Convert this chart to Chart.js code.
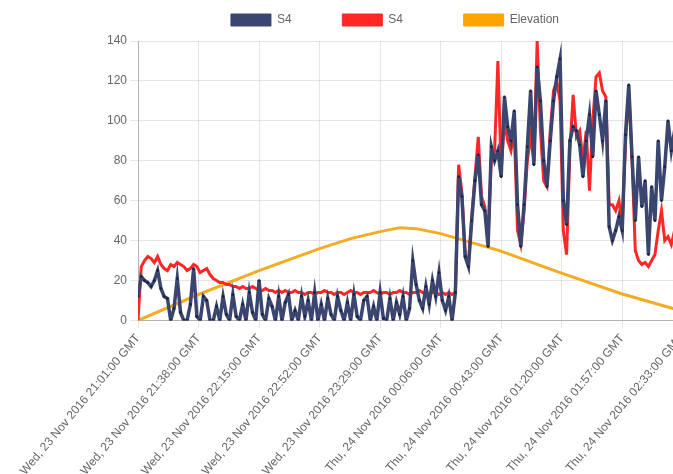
<!DOCTYPE html>
<html>
<head>
<meta charset="utf-8">
<script src="https://cdn.jsdelivr.net/npm/chart.js@4/dist/chart.umd.min.js"></script>
<style>
  body { margin: 0; overflow: hidden; background: #fff; }
  #wrap { position: relative; width: 803px; height: 481px; }
</style>
</head>
<body>
<div id="wrap"><canvas id="elevation-chart"></canvas></div>
<script>
// minutes since Wed 23 Nov 2016 21:01 GMT, one sample every 2 minutes
const sampleStep = 2;

const s4Blue = [
    12, 22, 20, 19, 17, 20, 25, 16, 12, 11, 0, 6, 21, 4, 0, 0, 8, 26, 2, 0,
    12, 10, 0, 0, 7, 0, 12, 3, 0, 13, 2, 0, 8, 0, 14, 4, 0, 20, 3, 0,
    11, 7, 0, 12, 0, 9, 13, 0, 5, 0, 12, 2, 10, 0, 14, 0, 8, 0, 11, 3,
    0, 12, 5, 0, 9, 0, 13, 2, 0, 10, 12, 0, 7, 0, 14, 1, 0, 11, 0, 9,
    3, 12, 0, 6, 30, 18, 10, 6, 17, 8, 20, 12, 24, 10, 5, 12, 0, 14, 72, 62,
    32, 27, 50, 70, 83, 58, 55, 37, 87, 80, 85, 72, 112, 97, 90, 105, 58, 37, 58, 87,
    115, 78, 127, 110, 80, 67, 90, 110, 122, 131, 60, 48, 90, 97, 95, 88, 72, 90, 103, 82,
    115, 103, 90, 110, 47, 40, 45, 52, 45, 93, 118, 82, 50, 82, 57, 70, 33, 67, 50, 90,
    60, 77, 100, 85, 95, 70
];

const s4Red = [
    0, 27, 30, 32, 31, 29, 32, 28, 26, 25, 28, 27, 29, 28, 27, 25, 26, 28, 27, 24,
    25, 26, 23, 21, 20, 19, 19, 18, 18, 17, 17, 16, 17, 16, 16, 17, 16, 15, 15, 16,
    15, 15, 14, 15, 14, 15, 14, 14, 15, 14, 14, 13, 14, 14, 13, 14, 14, 15, 14, 14,
    13, 14, 14, 13, 14, 15, 14, 14, 13, 14, 14, 14, 15, 14, 13, 14, 14, 13, 14, 14,
    15, 14, 14, 13, 14, 14, 15, 14, 14, 13, 14, 14, 13, 14, 13, 14, 13, 14, 78, 64,
    33, 28, 52, 72, 92, 62, 57, 40, 82, 85, 130, 75, 100, 90, 85, 95, 45, 38, 55, 80,
    92, 80, 140, 95, 70, 67, 95, 115, 120, 110, 45, 33, 85, 113, 92, 95, 80, 95, 65, 100,
    122, 124, 115, 112, 58, 58, 55, 60, 48, 90, 115, 80, 35, 30, 28, 29, 27, 30, 33, 45,
    55, 40, 42, 38, 45, 40
];

const elevMinutes = [0, 37, 74, 111, 130, 148, 160, 170, 185, 221, 258, 295, 327, 345];
const elevation = [0, 13, 25, 36, 41, 44.5, 46.5, 46, 43.5, 35, 24, 13.5, 6, 2];

const tickMinutes = [0, 37, 74, 111, 148, 185, 222, 259, 296, 332];
const tickLabels = [
    'Wed, 23 Nov 2016 21:01:00 GMT',
    'Wed, 23 Nov 2016 21:38:00 GMT',
    'Wed, 23 Nov 2016 22:15:00 GMT',
    'Wed, 23 Nov 2016 22:52:00 GMT',
    'Wed, 23 Nov 2016 23:29:00 GMT',
    'Thu, 24 Nov 2016 00:06:00 GMT',
    'Thu, 24 Nov 2016 00:43:00 GMT',
    'Thu, 24 Nov 2016 01:20:00 GMT',
    'Thu, 24 Nov 2016 01:57:00 GMT',
    'Thu, 24 Nov 2016 02:33:00 GMT'
];

// extra blank space after each legend label, to spread the items like the original
const legendGap = [11, 14, 0];

function toPoints(values, xs) {
    return values.map((v, i) => ({ x: xs ? xs[i] : i * sampleStep, y: v }));
}

// a little more room between legend and plot
const legendSpacer = {
    id: 'legendSpacer',
    beforeInit(chart) {
        const fit = chart.legend.fit;
        chart.legend.fit = function () {
            fit.call(this);
            this.height += 5;
        };
    }
};

const ctx = document.getElementById('elevation-chart').getContext('2d');
new Chart(ctx, {
    type: 'line',
    data: {
        datasets: [
            {
                label: 'S4',
                data: toPoints(s4Blue),
                borderColor: '#3a4670',
                backgroundColor: '#3a4670',
                borderWidth: 3.5,
                pointRadius: 1.4,
                pointBorderWidth: 0,
                pointBackgroundColor: '#1d2340',
                fill: false,
            },
            {
                label: 'S4',
                data: toPoints(s4Red),
                borderColor: 'rgb(255, 38, 38)',
                backgroundColor: 'rgb(255, 38, 38)',
                borderWidth: 3,
                pointRadius: 0,
                fill: false,
            },
            {
                label: 'Elevation',
                data: toPoints(elevation, elevMinutes),
                borderColor: 'rgb(244, 172, 36)',
                backgroundColor: 'orange',
                borderWidth: 3,
                pointRadius: 0,
                fill: false,
            }
        ]
    },
    plugins: [legendSpacer],
    options: {
        responsive: true,
        maintainAspectRatio: false,
        animation: false,
        layout: { padding: { left: 32, right: 45 } },
        plugins: {
            legend: {
                labels: {
                    padding: 14,
                    generateLabels: (chart) => {
                        const items = Chart.defaults.plugins.legend.labels.generateLabels(chart);
                        items.forEach((item, i) => {
                            item.text = item.text + ' '.repeat(legendGap[i]);
                            item.lineWidth = 1;
                            item.strokeStyle = item.fillStyle;
                        });
                        return items;
                    }
                }
            },
            tooltip: { enabled: false }
        },
        scales: {
            x: {
                type: 'linear',
                min: 0,
                max: 379,
                afterBuildTicks: (axis) => {
                    axis.ticks = tickMinutes.map((v) => ({ value: v }));
                },
                ticks: {
                    autoSkip: false,
                    minRotation: 50,
                    maxRotation: 50,
                    callback: (value, index) => tickLabels[index],
                },
                border: { color: 'rgba(0,0,0,0.22)' },
            },
            y: {
                min: 0,
                max: 140,
                afterFit: (axis) => {
                    axis.width = 106;
                },
                ticks: { stepSize: 20 },
                border: { color: 'rgba(0,0,0,0.22)' },
            },
        },
    },
});
</script>
</body>
</html>
